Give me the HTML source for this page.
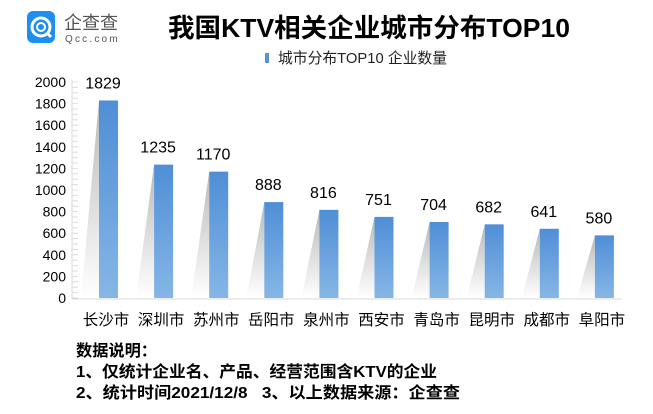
<!DOCTYPE html>
<html><head><meta charset="utf-8"><style>
body{margin:0;width:653px;height:414px;background:#fff;overflow:hidden;font-family:"Liberation Sans","Noto Sans CJK SC",sans-serif;}
</style></head><body>
<svg width="653" height="414" xmlns="http://www.w3.org/2000/svg" style="display:block">
<defs>
<linearGradient id="bg" x1="0" y1="0" x2="0" y2="1"><stop offset="0" stop-color="#4f8ed6"/><stop offset="1" stop-color="#86b6e6"/></linearGradient>
<linearGradient id="sg" x1="0" y1="0" x2="0" y2="1"><stop offset="0" stop-color="#b8b8b8"/><stop offset="1" stop-color="#ffffff"/></linearGradient>
</defs>
<rect x="27" y="11" width="28" height="32" rx="6" fill="#1e8ef0"/>
<circle cx="41" cy="27" r="9" fill="none" stroke="#fff" stroke-width="3"/>
<circle cx="41" cy="27" r="4" fill="none" stroke="#fff" stroke-width="2"/>
<line x1="47" y1="33" x2="51" y2="37" stroke="#fff" stroke-width="3"/>
<text x="64" y="29" font-size="18" fill="#555">企查查</text>
<text x="65" y="42" font-size="10" fill="#555" letter-spacing="2.2">Qcc.com</text>
<text x="168" y="37" font-size="26" font-weight="bold" fill="#000" textLength="402" lengthAdjust="spacingAndGlyphs">我国KTV相关企业城市分布TOP10</text>
<rect x="265" y="53" width="4" height="10" fill="#5a92d6"/>
<text x="278" y="63" font-size="15" fill="#222" textLength="169" lengthAdjust="spacingAndGlyphs">城市分布TOP10 企业数量</text>
<line x1="72" y1="80" x2="72" y2="299" stroke="#d9d9d9"/>
<g stroke="#dcdcdc" id="ticks"></g>
<line x1="72" y1="299" x2="622" y2="299" stroke="#d9d9d9"/>
<g font-size="14" fill="#000" text-anchor="end" id="yl"></g>
<g id="bars"></g>
<g font-size="15.5" fill="#000" id="xl"></g>
<text x="76" y="356" font-size="16" font-weight="bold" textLength="81" lengthAdjust="spacingAndGlyphs">数据说明：</text>
<text x="76" y="377" font-size="16" font-weight="bold" textLength="361" lengthAdjust="spacingAndGlyphs">1、仅统计企业名、产品、经营范围含KTV的企业</text>
<text x="76" y="398" font-size="16" font-weight="bold" textLength="384" lengthAdjust="spacingAndGlyphs" xml:space="preserve">2、统计时间2021/12/8   3、以上数据来源：企查查</text>
</svg>
<script>
var ns="http://www.w3.org/2000/svg";
function el(t,a,p,txt){var e=document.createElementNS(ns,t);for(var k in a)e.setAttribute(k,a[k]);if(txt!=null)e.textContent=txt;document.getElementById(p).appendChild(e);}
for(var v=0;v<=2000;v+=50){var y=298-v*0.108;el('line',{x1:72,x2:78,y1:y,y2:y},'ticks');}
for(var v=0;v<=2000;v+=200){el('text',{x:66,y:298-v*0.108+5},'yl',v);}
var d=[["长沙市",1829],["深圳市",1235],["苏州市",1170],["岳阳市",888],["泉州市",816],["西安市",751],["青岛市",704],["昆明市",682],["成都市",641],["阜阳市",580]];
d.forEach(function(r,i){var x=99+i*55.1,top=298-r[1]*0.108;
el('polygon',{points:x+','+top+' '+x+',298 '+(x-18)+',298',fill:'url(#sg)'},'bars');
el('rect',{x:x,y:top,width:19,height:298-top,fill:'url(#bg)'},'bars');
el('text',{x:x+4,y:top-12,'text-anchor':'middle','font-size':16},'bars',r[1]);
el('text',{x:x+7,y:325,'text-anchor':'middle'},'xl',r[0]);});
</script>
</body></html>
